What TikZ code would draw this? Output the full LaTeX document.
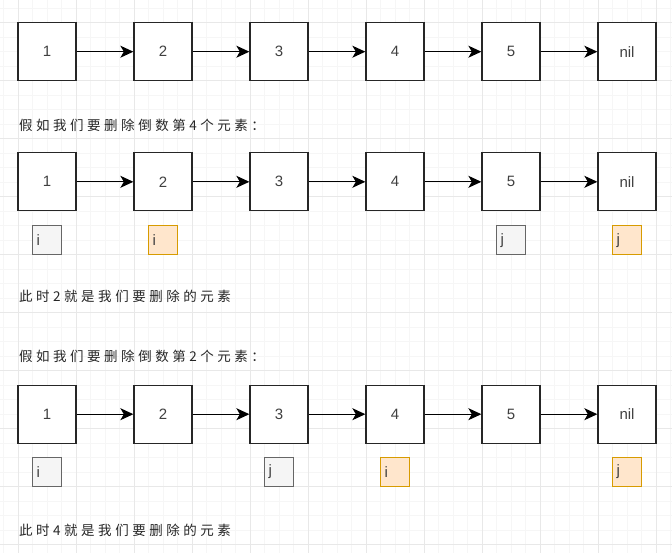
\documentclass[tikz,border=0pt]{standalone}
\usepackage{fontspec}
\setmainfont{Liberation Sans}
\newfontfamily\cjk[LetterSpace=26]{Noto Sans CJK SC}
\usetikzlibrary{arrows.meta}
\definecolor{gridminor}{HTML}{F6F6F6}
\definecolor{gridmajor}{HTML}{E8E8E8}
\definecolor{grayfill}{HTML}{F5F5F5}
\definecolor{graydraw}{HTML}{666666}
\definecolor{orangefill}{HTML}{FFE6CC}
\definecolor{orangedraw}{HTML}{D79B00}
\tikzset{
	listnode/.style={draw=black!85, line width=1.3pt, fill=white, minimum size=58pt, inner sep=0pt, font=\fontsize{15}{15}\selectfont, text=black!75},
	ptr/.style={line width=1.1pt, minimum height=29.5pt, text width=21pt, inner xsep=4pt, inner ysep=0pt, align=left, font=\fontsize{15}{15}\selectfont, text=black!75},
	ptrold/.style={ptr, draw=graydraw, fill=grayfill},
	ptrnew/.style={ptr, draw=orangedraw, fill=orangefill},
	nextarrow/.style={line width=1.2pt, -{Stealth[length=13pt, width=12pt, inset=3.5pt]}},
	note/.style={anchor=west, inner sep=0pt, font=\cjk\fontsize{13.5}{14}\selectfont, text=black!85}
}
\begin{document}
	\begin{tikzpicture}[x=1pt,y=-1pt]
		\useasboundingbox (0,0) rectangle (672,553);
		\fill[white] (0,0) rectangle (672,553);
		% grid
		\foreach \gx in {3.5,18,...,672} \draw[gridminor, line width=0.6pt] (\gx,0) -- (\gx,553);
		\foreach \gy in {8.2,22.7,...,553} \draw[gridminor, line width=0.6pt] (0,\gy) -- (672,\gy);
		\foreach \gx in {18,76,...,672} \draw[gridmajor, line width=0.8pt] (\gx,0) -- (\gx,553);
		\foreach \gy in {22.7,80.7,...,553} \draw[gridmajor, line width=0.8pt] (0,\gy) -- (672,\gy);
		%
		% first list
		\node[listnode] (a1) at (47,51.7) {1};
		\node[listnode] (a2) at (163,51.7) {2};
		\node[listnode] (a3) at (279,51.7) {3};
		\node[listnode] (a4) at (395,51.7) {4};
		\node[listnode] (a5) at (511,51.7) {5};
		\node[listnode] (a6) at (627,51.7) {nil};
		\draw[nextarrow] (a1) -- (a2);
		\draw[nextarrow] (a2) -- (a3);
		\draw[nextarrow] (a3) -- (a4);
		\draw[nextarrow] (a4) -- (a5);
		\draw[nextarrow] (a5) -- (a6);
		%
		\node[note] (q1) at (19,125) {假如我们要删除倒数第4个元素：};
		%
		% second list
		\node[listnode] (b1) at (47,181.8) {1};
		\node[listnode] (b2) at (163,181.8) {2};
		\node[listnode] (b3) at (279,181.8) {3};
		\node[listnode] (b4) at (395,181.8) {4};
		\node[listnode] (b5) at (511,181.8) {5};
		\node[listnode] (b6) at (627,181.8) {nil};
		\draw[nextarrow] (b1) -- (b2);
		\draw[nextarrow] (b2) -- (b3);
		\draw[nextarrow] (b3) -- (b4);
		\draw[nextarrow] (b4) -- (b5);
		\draw[nextarrow] (b5) -- (b6);
		%
		\node[ptrold] (bi0) at (47,240.2) {i};
		\node[ptrnew] (bi1) at (163,240.2) {i};
		\node[ptrold] (bj0) at (511,240.2) {j};
		\node[ptrnew] (bj1) at (627,240.2) {j};
		%
		\node[note] (ans1) at (19,296.7) {此时2就是我们要删除的元素};
		\node[note] (q2) at (19,356.7) {假如我们要删除倒数第2个元素：};
		%
		% third list
		\node[listnode] (c1) at (47,414.2) {1};
		\node[listnode] (c2) at (163,414.2) {2};
		\node[listnode] (c3) at (279,414.2) {3};
		\node[listnode] (c4) at (395,414.2) {4};
		\node[listnode] (c5) at (511,414.2) {5};
		\node[listnode] (c6) at (627,414.2) {nil};
		\draw[nextarrow] (c1) -- (c2);
		\draw[nextarrow] (c2) -- (c3);
		\draw[nextarrow] (c3) -- (c4);
		\draw[nextarrow] (c4) -- (c5);
		\draw[nextarrow] (c5) -- (c6);
		%
		\node[ptrold] (ci0) at (47,472) {i};
		\node[ptrold] (cj0) at (279,472) {j};
		\node[ptrnew] (ci1) at (395,472) {i};
		\node[ptrnew] (cj1) at (627,472) {j};
		%
		\node[note] (ans2) at (19,530) {此时4就是我们要删除的元素};
		%
	\end{tikzpicture}
\end{document}
